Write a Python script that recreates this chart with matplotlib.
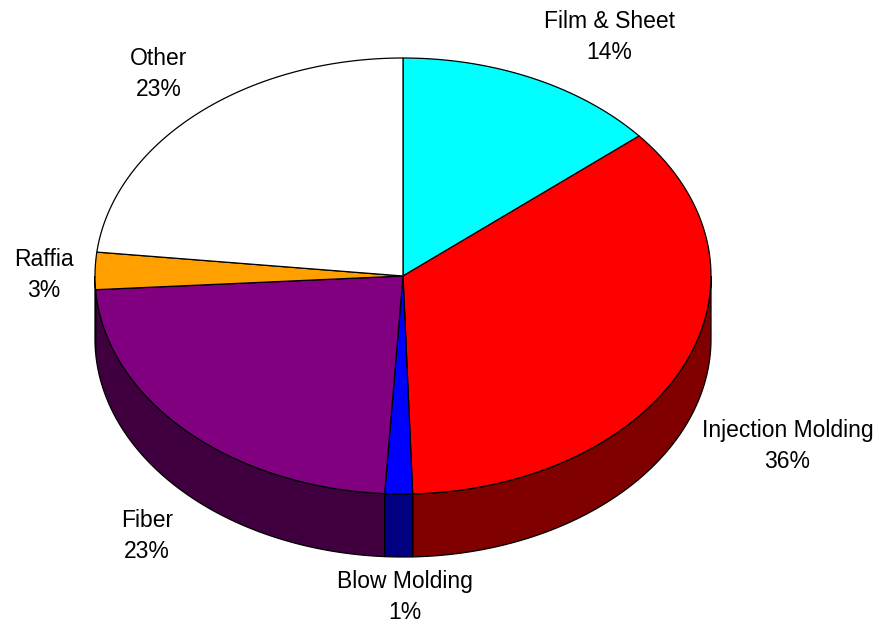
import numpy as np
import matplotlib
matplotlib.use('Agg')
import matplotlib.pyplot as plt
from matplotlib.patches import Polygon

# slice data, clockwise from 12 o'clock
names = ['Film & Sheet', 'Injection Molding', 'Blow Molding', 'Fiber', 'Raffia', 'Other']
shares = [13.9, 35.6, 1.45, 23.05, 2.75, 23.25]
top_colors = ['#00ffff', '#ff0000', '#0000ff', '#800080', '#ffa000', '#ffffff']
side_colors = ['#008080', '#800000', '#000080', '#400040', '#805000', '#808080']

# label nudges in pixels from the default spot (1.2 radius)
label_dx = [50, 47, 7, 5, 10, 2]
label_dy = [-2, 0, -4, 12, 5, -7]

# layout of the tilted pie (pixels)
cx, cy = 403, 276
rx, ry = 308, 218
depth = 63

plt.rcParams['font.family'] = ['Liberation Sans', 'DejaVu Sans']
fig = plt.figure(figsize=(8.82, 6.26), dpi=100)
ax = fig.add_axes([0, 0, 1, 1])
ax.set_xlim(0, 882)
ax.set_ylim(626, 0)
ax.axis('off')


def rim(a0, a1, n=200):
    t = np.radians(np.linspace(a0, a1, n))
    return cx + rx * np.cos(t), cy - ry * np.sin(t)


total = sum(shares)
start = 90.0
bounds = []
for s in shares:
    end = start - s / total * 360.0
    bounds.append((start, end))
    start = end

# side walls (only the front half is visible)
for (a0, a1), col in zip(bounds, side_colors):
    lo, hi = a1, a0
    for shift in (0, -360, 360):
        l, h = lo + shift, hi + shift
        fl, fh = max(l, -180), min(h, 0)
        if fh > fl:
            x, y = rim(fh, fl)
            xs = np.concatenate([x, x[::-1]])
            ys = np.concatenate([y, y[::-1] + depth])
            ax.add_patch(Polygon(np.column_stack([xs, ys]), closed=True,
                                 facecolor=col, edgecolor='black', lw=0.9))

# top faces
for (a0, a1), col in zip(bounds, top_colors):
    x, y = rim(a0, a1)
    xs = np.concatenate([[cx], x])
    ys = np.concatenate([[cy], y])
    ax.add_patch(Polygon(np.column_stack([xs, ys]), closed=True,
                         facecolor=col, edgecolor='black', lw=0.9))

# labels
for (a0, a1), name, s, ddx, ddy in zip(bounds, names, shares, label_dx, label_dy):
    mid = np.radians((a0 + a1) / 2)
    lx = cx + 1.2 * rx * np.cos(mid) + ddx
    ly = cy - 1.2 * ry * np.sin(mid) + ddy
    if np.sin(mid) < 0:
        ly += depth
    ax.text(lx, ly, f'{name}\n{s:.0f}%', ha='center', va='center',
            fontsize=16.5, linespacing=1.45, color='black')

fig.savefig('out.png', dpi=100)
